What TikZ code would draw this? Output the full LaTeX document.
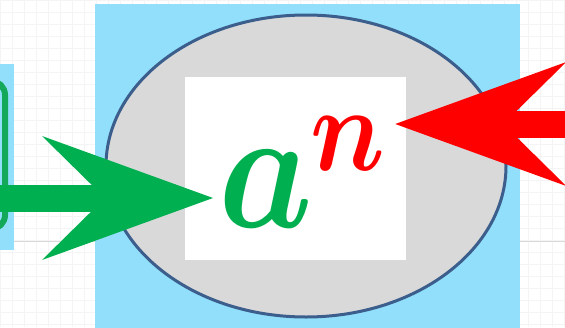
\documentclass[tikz,border=0pt]{standalone}
\usepackage{fontspec}
\usepackage{graphicx}
\usepackage{xcolor}
\usepackage{tikz}
\usetikzlibrary{arrows.meta, positioning, shapes.geometric, calc}
\definecolor{panelblue}{HTML}{92DFFB}
\definecolor{lensgrey}{HTML}{D9D9D9}
\definecolor{lensrim}{HTML}{3B5E8C}
\definecolor{offgreen}{HTML}{00B050}
\definecolor{edgegreen}{HTML}{13A85A}

\begin{document}
\begin{tikzpicture}[x=1pt, y=-1pt,
    gridline/.style={gray!9, line width=0.8pt},
    blockarrow/.style={line width=27pt,
        -{Stealth[length=171pt, width=124pt, inset=63pt, line width=0pt]}},
    glyph/.style={inner sep=0pt, anchor=base west}]
    % Canvas
    \useasboundingbox (0,0) rectangle (565,327);
    \clip (0,0) rectangle (565,327);
    \fill[white] (0,0) rectangle (565,327);

    % Background grid
    \draw[gridline, step=12pt] (0,0) grid (565,327);
    \draw[gray!30, line width=1pt] (0,241) -- (565,241);

    % Panels
    \fill[panelblue] (-5,64) rectangle (14,250);
    \draw[edgegreen, line width=6pt, rounded corners=14pt] (-60,81) rectangle (5,229);
    \fill[panelblue] (95,4) rectangle (520,330);

    % Lens and card
    \node[ellipse, draw=lensrim, line width=3pt, fill=lensgrey,
          minimum width=400pt, minimum height=302pt] (lens) at (306,166) {};
    \node[fill=white, minimum width=221pt, minimum height=183pt, inner sep=0pt]
          (card) at (295.5,168.5) {};

    % a^n
    \node[glyph, offgreen] (abase) at (218,227) {\scalebox{15}[17.3]{\boldmath$a$}};
    \node[glyph, red] (npow) at (310,170) {\scalebox{10.5}[12.1]{\boldmath$n$}};

    % Arrows
    \coordinate (gtail) at (-2,198);
    \coordinate (rtail) at (570,124);
    \draw[blockarrow, offgreen] (gtail) -- ($(gtail -| abase.west)+(-5,0)$);
    \draw[blockarrow, red] (rtail) -- ($(rtail -| npow.east)+(10,0)$);
\end{tikzpicture}
\end{document}
